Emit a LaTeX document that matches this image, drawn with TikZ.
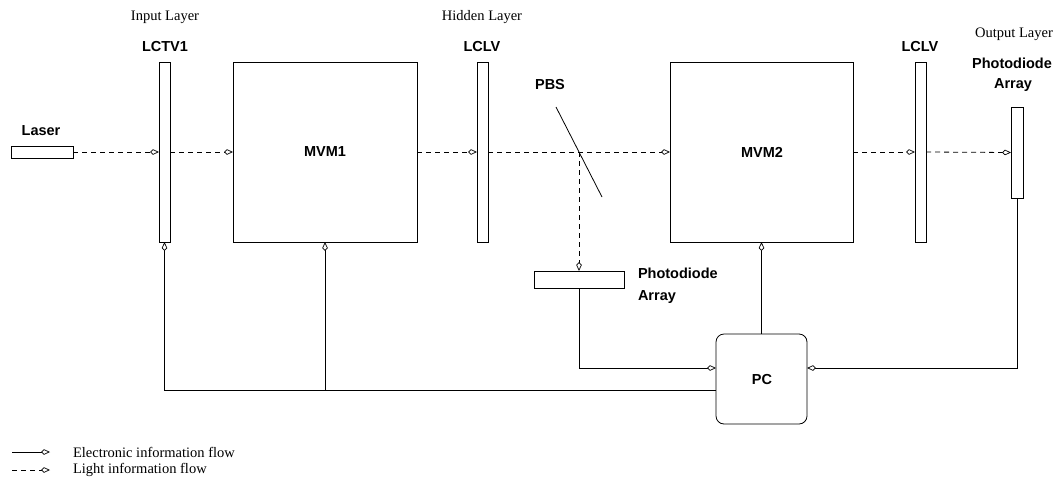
\documentclass[tikz,border=0pt]{standalone}
\usepackage{fontspec}
\setmainfont{Liberation Serif}
\setsansfont{Liberation Sans}
\usetikzlibrary{arrows.meta,calc}
\begin{document}
\begin{tikzpicture}[x=1pt,y=-1pt,
  every node/.style={inner sep=0pt,outer sep=0pt},
  part/.style={draw,line width=0.8pt,minimum width=#1},
  lbl/.style={font=\sffamily\bfseries\fontsize{14.5}{17}\selectfont},
  captxt/.style={font=\fontsize{14.5}{16}\selectfont},
  flowtip/.style={-{Kite[length=9pt,width=5.5pt,inset=3pt,fill=white,line width=0.7pt]}},
  light/.style={flowtip,line width=0.8pt,dash pattern=on 5pt off 4pt},
  elec/.style={flowtip,line width=0.8pt},
]
\useasboundingbox (0,0) rectangle (1060,480);

% optical components along the beam axis
\node[part=62pt,minimum height=12pt] (laser) at (42,152) {};
\node[part=11pt,minimum height=180pt] (lctv) at (164.5,152) {};
\node[part=184pt,minimum height=180pt] (mvm1) at (325,152) {};
\node[part=11pt,minimum height=180pt] (lclv1) at (482.5,152) {};
\node[part=183pt,minimum height=180pt] (mvm2) at (761.5,152) {};
\node[part=11pt,minimum height=180pt] (lclv2) at (920.5,152) {};
\node[part=12pt,minimum height=91pt] (opd) at (1017,152.5) {};
\node[part=90pt,minimum height=17pt] (pd) at (579,279.5) {};
\node[draw,line width=0.8pt,rounded corners=8pt,minimum width=91pt,minimum height=90pt] (pc) at (761.5,379) {};

% beam splitter
\coordinate (pbs) at (579,152);
\draw[line width=0.8pt] (556,107) -- (602,197);

% labels
\node[lbl] at (41,131) {Laser};
\node[captxt] at (165,17) {Input Layer};
\node[lbl] at (165,47) {LCTV1};
\node[lbl] at (325,152) {MVM1};
\node[captxt] at (482,17) {Hidden Layer};
\node[lbl] at (482,47) {LCLV};
\node[lbl] at (550,85) {PBS};
\node[lbl] at (762,152) {MVM2};
\node[lbl] at (920,47) {LCLV};
\node[captxt] at (1014,34) {Output Layer};
\node[lbl] at (1012,63) {Photodiode};
\node[lbl] at (1013,85) {Array};
\node[lbl,anchor=west] at (638,273) {Photodiode};
\node[lbl,anchor=west] at (638,297) {Array};
\node[lbl] at (762,380) {PC};

% light paths
\draw[light] (laser.east) -- (lctv.west);
\draw[light] (lctv.east) -- (mvm1.west);
\draw[light] (mvm1.east) -- (lclv1.west);
\draw[light] (lclv1.east) -- (mvm2.west);
\draw[light] (mvm2.east) -- (lclv2.west);
\draw[light] (lclv2.east) -- (opd.west);
\draw[light] (pbs) -- (pd.north);

% electronic paths
\coordinate (bus) at ([yshift=-11pt]pc.west);
\draw[elec] (pd.south) |- ([yshift=11pt]pc.west);
\draw[elec] (opd.south) |- ([yshift=11pt]pc.east);
\draw[elec] (pc.north) -- (mvm2.south);
\draw[elec] (bus) -| (lctv.south);
\draw[elec] (mvm1.south |- bus) -- (mvm1.south);

% legend
\coordinate (e0) at (12,452);
\coordinate (e1) at (50,452);
\coordinate (l0) at (12,470);
\coordinate (l1) at (50,470);
\draw[elec] (e0) -- (e1);
\draw[light] (l0) -- (l1);
\node[captxt,anchor=west] at (73,452) {Electronic information flow};
\node[captxt,anchor=west] at (73,470) {Light information flow};
\end{tikzpicture}
\end{document}
